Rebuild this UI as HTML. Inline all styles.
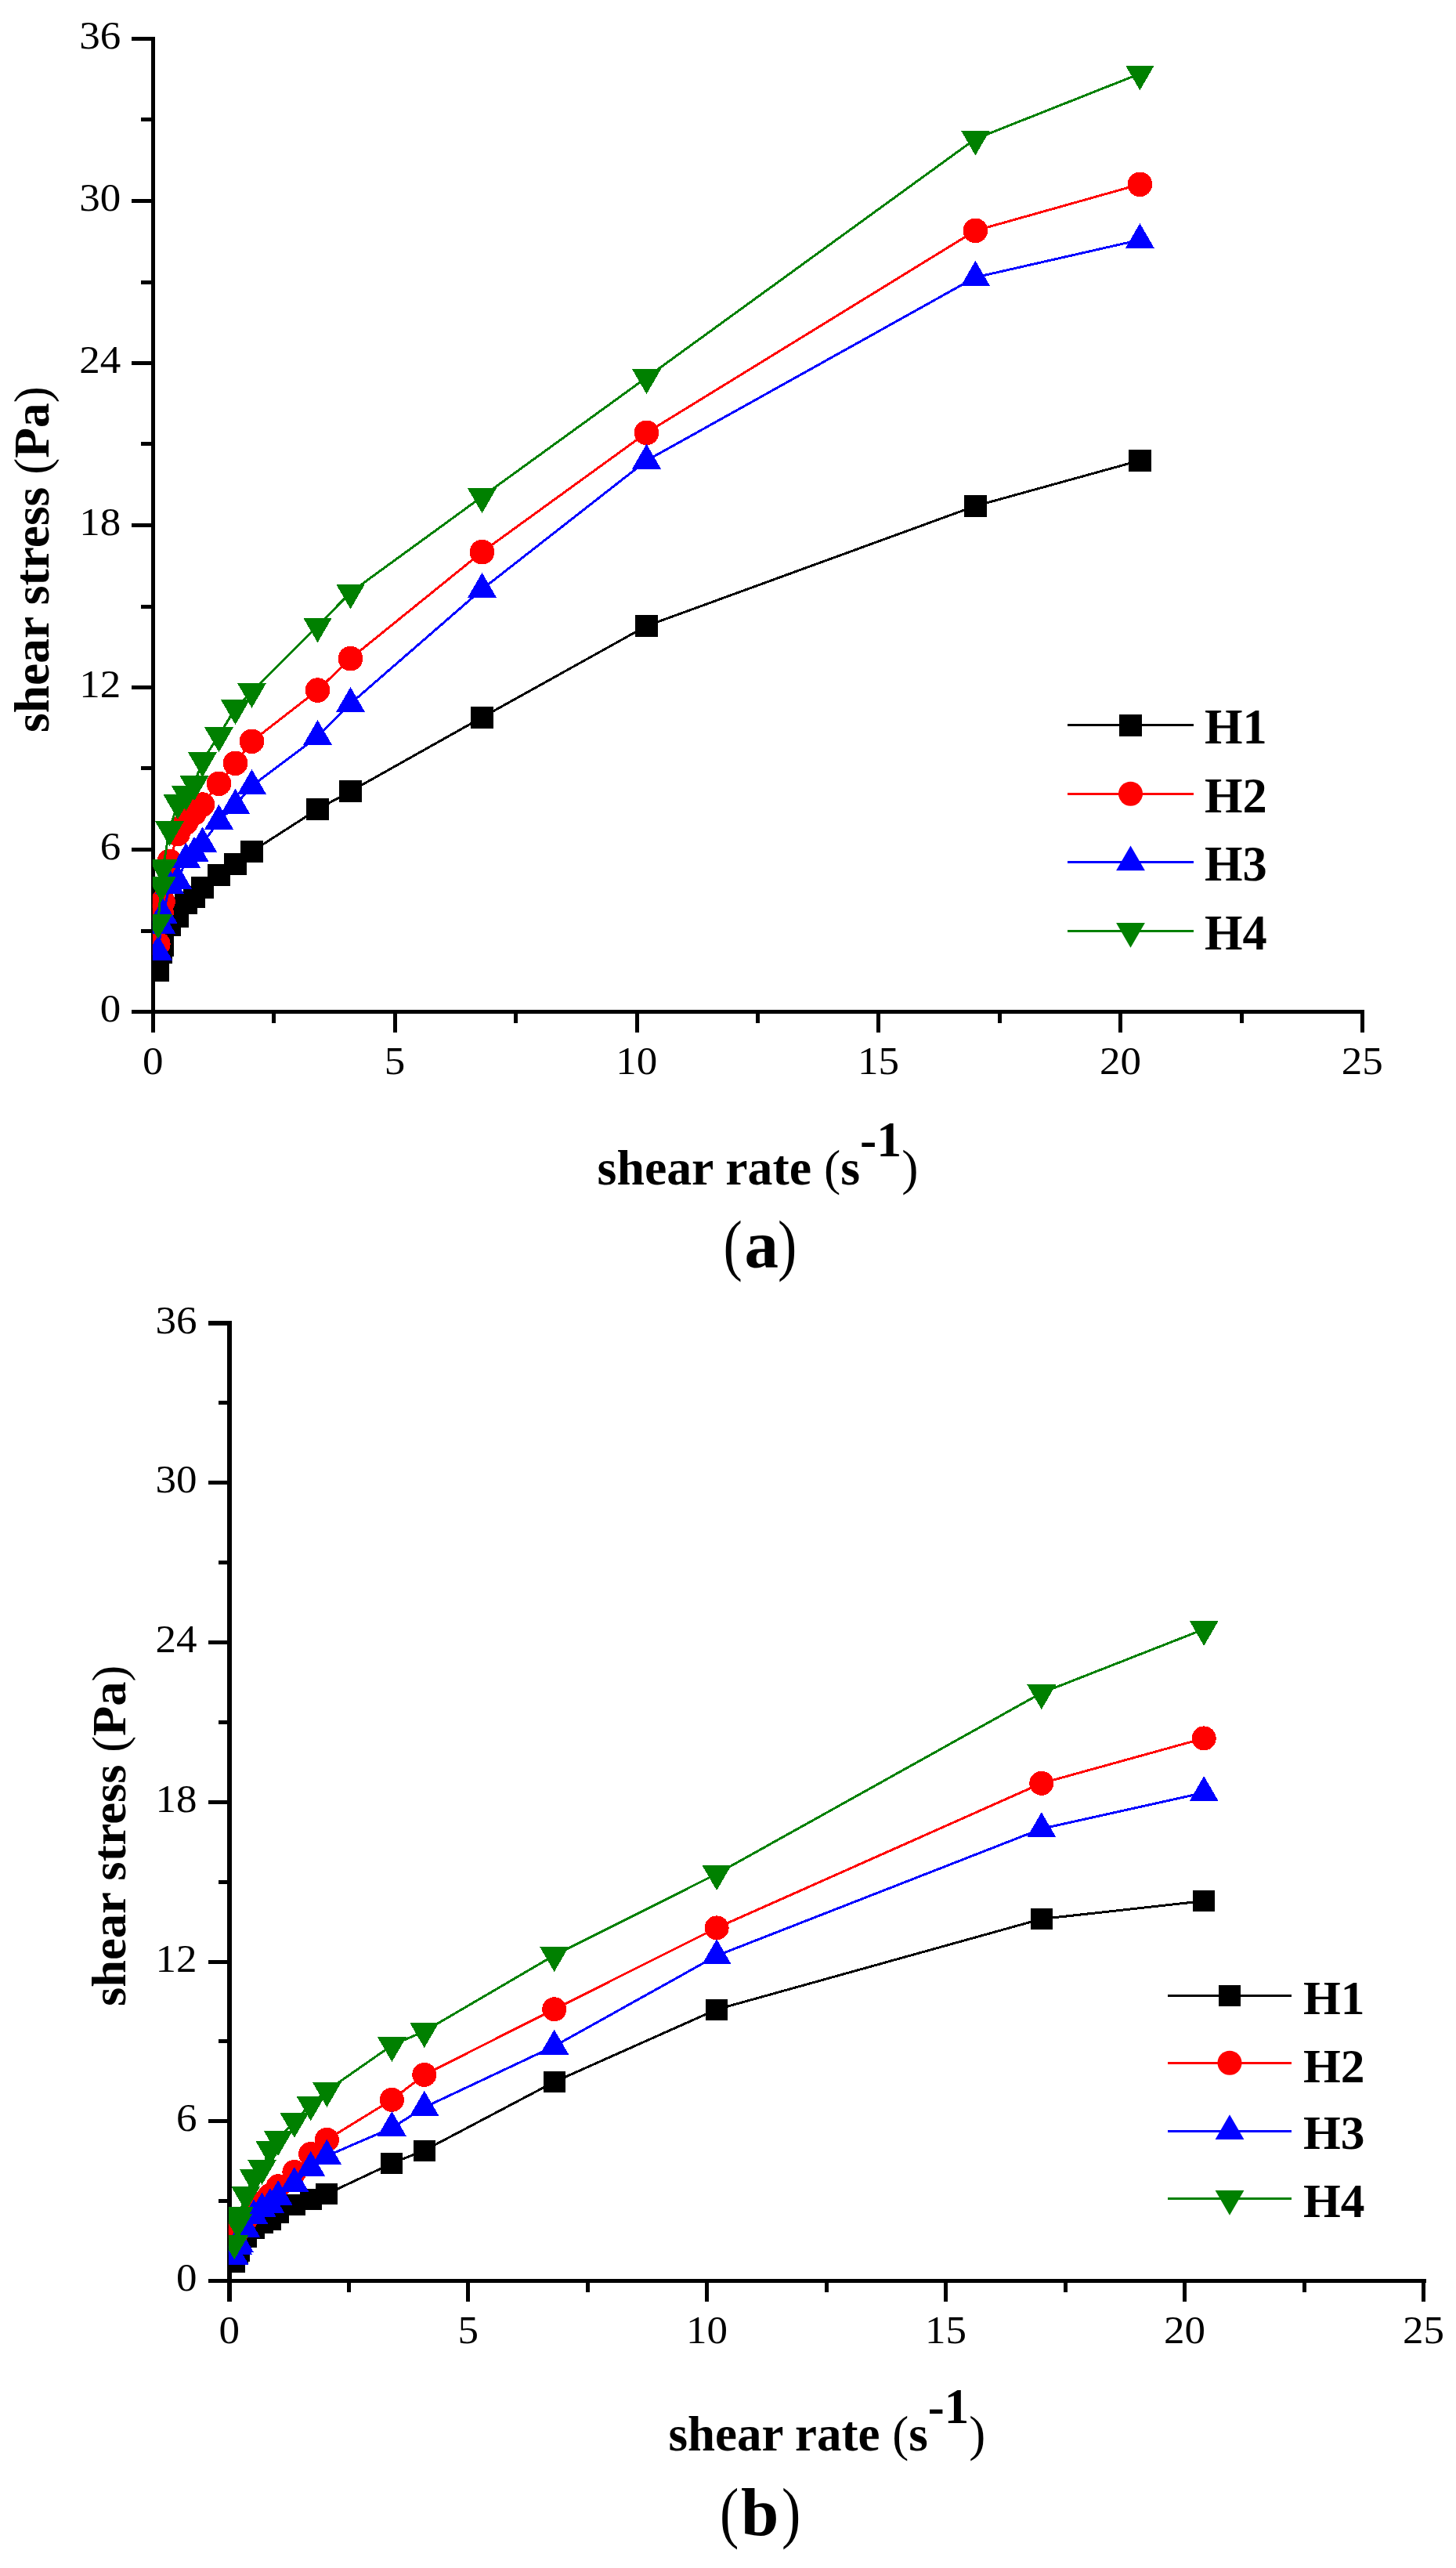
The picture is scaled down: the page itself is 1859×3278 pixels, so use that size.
<!DOCTYPE html>
<html lang="en"><head><meta charset="utf-8"><title>Shear stress versus shear rate</title>
<style>html,body{margin:0;padding:0;background:#fff}body{width:1859px;height:3278px;overflow:hidden}svg{display:block}text{font-family:"Liberation Serif",serif;fill:#000}.tk{font-size:50.5px}.b{font-weight:bold}.n{font-weight:normal}</style></head><body>
<svg width="1859" height="3278" viewBox="0 0 1859 3278">
<rect width="1859" height="3278" fill="#fff"/>
<g id="chart-a">
<path d="M193 47H198V1317.5H193Z M168 1289H1742V1294H168Z M180 1186H194V1191H180Z M168 1082H194V1087H168Z M180 978H194V983H180Z M168 875H194V880H168Z M180 772H194V777H180Z M168 668H194V673H168Z M180 564H194V569H180Z M168 461H194V466H168Z M180 358H194V363H180Z M168 254H194V259H168Z M180 150H194V155H180Z M168 47H194V52H168Z M347 1292H352V1305.7H347Z M502 1292H507V1317.5H502Z M656 1292H661V1305.7H656Z M811 1292H816V1317.5H811Z M965 1292H970V1305.7H965Z M1119 1292H1124V1317.5H1119Z M1274 1292H1279V1305.7H1274Z M1428 1292H1433V1317.5H1428Z M1583 1292H1588V1305.7H1583Z M1737 1292H1742V1317.5H1737Z" fill="#000" shape-rendering="crispEdges"/>
<g class="tk" text-anchor="end">
<text transform="translate(154.3 1304.3) scale(1.05 1)">0</text>
<text transform="translate(154.3 1097.3) scale(1.05 1)">6</text>
<text transform="translate(154.3 890.3) scale(1.05 1)">12</text>
<text transform="translate(154.3 683.3) scale(1.05 1)">18</text>
<text transform="translate(154.3 476.3) scale(1.05 1)">24</text>
<text transform="translate(154.3 269.3) scale(1.05 1)">30</text>
<text transform="translate(154.3 62.3) scale(1.05 1)">36</text>
</g>
<g class="tk" text-anchor="middle">
<text transform="translate(195.2 1371.4) scale(1.05 1)">0</text>
<text transform="translate(504 1371.4) scale(1.05 1)">5</text>
<text transform="translate(812.8 1371.4) scale(1.05 1)">10</text>
<text transform="translate(1121.6 1371.4) scale(1.05 1)">15</text>
<text transform="translate(1430.4 1371.4) scale(1.05 1)">20</text>
<text transform="translate(1739.2 1371.4) scale(1.05 1)">25</text>
</g>
<clipPath id="clip0"><rect x="194.8" y="19.5" width="1574.7" height="1273"/></clipPath>
<g clip-path="url(#clip0)" shape-rendering="crispEdges">
<polyline points="201.8,1238.7 206,1215.6 208.1,1206.7 216.5,1180.6 227,1169.6 237.5,1152.9 248,1144.9 258.5,1133 279.5,1116.7 300.5,1103 321.5,1087 405.5,1033 447.5,1010.1 615.5,915.7 825.5,799 1245.4,645.9 1455.4,587.8" fill="none" stroke="#000000" stroke-width="3.0" stroke-linejoin="round"/>
<rect x="187.5" y="1224.8" width="28.6" height="27.8" fill="#000000"/><rect x="191.7" y="1201.7" width="28.6" height="27.8" fill="#000000"/><rect x="193.8" y="1192.8" width="28.6" height="27.8" fill="#000000"/><rect x="202.2" y="1166.7" width="28.6" height="27.8" fill="#000000"/><rect x="212.7" y="1155.7" width="28.6" height="27.8" fill="#000000"/><rect x="223.2" y="1139" width="28.6" height="27.8" fill="#000000"/><rect x="233.7" y="1131" width="28.6" height="27.8" fill="#000000"/><rect x="244.2" y="1119.1" width="28.6" height="27.8" fill="#000000"/><rect x="265.2" y="1102.8" width="28.6" height="27.8" fill="#000000"/><rect x="286.2" y="1089.1" width="28.6" height="27.8" fill="#000000"/><rect x="307.2" y="1073.1" width="28.6" height="27.8" fill="#000000"/><rect x="391.2" y="1019.1" width="28.6" height="27.8" fill="#000000"/><rect x="433.2" y="996.2" width="28.6" height="27.8" fill="#000000"/><rect x="601.2" y="901.8" width="28.6" height="27.8" fill="#000000"/><rect x="811.2" y="785.1" width="28.6" height="27.8" fill="#000000"/><rect x="1231.1" y="632" width="28.6" height="27.8" fill="#000000"/><rect x="1441.1" y="573.9" width="28.6" height="27.8" fill="#000000"/>
<polyline points="201.8,1205 206,1165 208.1,1151 216.5,1099.3 227,1064.5 237.5,1050 248,1038.1 258.5,1027.1 279.5,1000.3 300.5,974.3 321.5,946.3 405.5,881.1 447.5,840.6 615.5,704.6 825.5,552.4 1245.4,294.4 1455.4,235.3" fill="none" stroke="#ff0000" stroke-width="3.0" stroke-linejoin="round"/>
<circle cx="201.8" cy="1205" r="15.8" fill="#ff0000"/><circle cx="206" cy="1165" r="15.8" fill="#ff0000"/><circle cx="208.1" cy="1151" r="15.8" fill="#ff0000"/><circle cx="216.5" cy="1099.3" r="15.8" fill="#ff0000"/><circle cx="227" cy="1064.5" r="15.8" fill="#ff0000"/><circle cx="237.5" cy="1050" r="15.8" fill="#ff0000"/><circle cx="248" cy="1038.1" r="15.8" fill="#ff0000"/><circle cx="258.5" cy="1027.1" r="15.8" fill="#ff0000"/><circle cx="279.5" cy="1000.3" r="15.8" fill="#ff0000"/><circle cx="300.5" cy="974.3" r="15.8" fill="#ff0000"/><circle cx="321.5" cy="946.3" r="15.8" fill="#ff0000"/><circle cx="405.5" cy="881.1" r="15.8" fill="#ff0000"/><circle cx="447.5" cy="840.6" r="15.8" fill="#ff0000"/><circle cx="615.5" cy="704.6" r="15.8" fill="#ff0000"/><circle cx="825.5" cy="552.4" r="15.8" fill="#ff0000"/><circle cx="1245.4" cy="294.4" r="15.8" fill="#ff0000"/><circle cx="1455.4" cy="235.3" r="15.8" fill="#ff0000"/>
<polyline points="201.8,1215.1 206,1181.7 208.1,1168 216.5,1130.2 227,1124.7 237.5,1097 248,1089 258.5,1076.9 279.5,1048 300.5,1027.9 321.5,1003.2 405.5,940.2 447.5,898.2 615.5,752.2 825.5,587.9 1245.4,354 1455.4,306.2" fill="none" stroke="#0000ff" stroke-width="3.0" stroke-linejoin="round"/>
<polygon points="201.8,1193.9 183.4,1225.7 220.2,1225.7" fill="#0000ff"/><polygon points="206,1160.5 187.6,1192.3 224.4,1192.3" fill="#0000ff"/><polygon points="208.1,1146.8 189.7,1178.6 226.5,1178.6" fill="#0000ff"/><polygon points="216.5,1109 198.1,1140.8 234.9,1140.8" fill="#0000ff"/><polygon points="227,1103.5 208.6,1135.3 245.4,1135.3" fill="#0000ff"/><polygon points="237.5,1075.8 219.1,1107.6 255.9,1107.6" fill="#0000ff"/><polygon points="248,1067.8 229.6,1099.6 266.4,1099.6" fill="#0000ff"/><polygon points="258.5,1055.7 240.1,1087.5 276.9,1087.5" fill="#0000ff"/><polygon points="279.5,1026.8 261.1,1058.6 297.9,1058.6" fill="#0000ff"/><polygon points="300.5,1006.7 282.1,1038.5 318.9,1038.5" fill="#0000ff"/><polygon points="321.5,982 303.1,1013.8 339.9,1013.8" fill="#0000ff"/><polygon points="405.5,919 387.1,950.8 423.9,950.8" fill="#0000ff"/><polygon points="447.5,877 429.1,908.8 465.9,908.8" fill="#0000ff"/><polygon points="615.5,731 597.1,762.8 633.9,762.8" fill="#0000ff"/><polygon points="825.5,566.7 807.1,598.5 843.9,598.5" fill="#0000ff"/><polygon points="1245.4,332.8 1227,364.6 1263.8,364.6" fill="#0000ff"/><polygon points="1455.4,285 1437,316.8 1473.8,316.8" fill="#0000ff"/>
<polyline points="201.8,1177.3 206,1129.9 208.1,1107.7 216.5,1059 227,1024.9 237.5,1014 248,1001 258.5,971 279.5,939 300.5,904 321.5,882.7 405.5,799.1 447.5,756.3 615.5,634 825.5,481.9 1245.4,177.3 1455.4,94.1" fill="none" stroke="#008000" stroke-width="3.0" stroke-linejoin="round"/>
<polygon points="201.8,1198.5 183.4,1166.7 220.2,1166.7" fill="#008000"/><polygon points="206,1151.1 187.6,1119.3 224.4,1119.3" fill="#008000"/><polygon points="208.1,1128.9 189.7,1097.1 226.5,1097.1" fill="#008000"/><polygon points="216.5,1080.2 198.1,1048.4 234.9,1048.4" fill="#008000"/><polygon points="227,1046.1 208.6,1014.3 245.4,1014.3" fill="#008000"/><polygon points="237.5,1035.2 219.1,1003.4 255.9,1003.4" fill="#008000"/><polygon points="248,1022.2 229.6,990.4 266.4,990.4" fill="#008000"/><polygon points="258.5,992.2 240.1,960.4 276.9,960.4" fill="#008000"/><polygon points="279.5,960.2 261.1,928.4 297.9,928.4" fill="#008000"/><polygon points="300.5,925.2 282.1,893.4 318.9,893.4" fill="#008000"/><polygon points="321.5,903.9 303.1,872.1 339.9,872.1" fill="#008000"/><polygon points="405.5,820.3 387.1,788.5 423.9,788.5" fill="#008000"/><polygon points="447.5,777.5 429.1,745.7 465.9,745.7" fill="#008000"/><polygon points="615.5,655.2 597.1,623.4 633.9,623.4" fill="#008000"/><polygon points="825.5,503.1 807.1,471.3 843.9,471.3" fill="#008000"/><polygon points="1245.4,198.5 1227,166.7 1263.8,166.7" fill="#008000"/><polygon points="1455.4,115.3 1437,83.5 1473.8,83.5" fill="#008000"/>
</g>
<path d="M1363.1 925.5 H1524.2" stroke="#000000" stroke-width="3" fill="none" shape-rendering="crispEdges"/>
<rect x="1429" y="912" width="29" height="28" fill="#000000"/>
<text class="b" x="1538" y="948.8" font-size="62.4">H1</text>
<path d="M1363.1 1013.2 H1524.2" stroke="#ff0000" stroke-width="3" fill="none" shape-rendering="crispEdges"/>
<circle cx="1443.5" cy="1013.2" r="15.5" fill="#ff0000"/>
<text class="b" x="1538" y="1036.7" font-size="62.4">H2</text>
<path d="M1363.1 1100.6 H1524.2" stroke="#0000ff" stroke-width="3" fill="none" shape-rendering="crispEdges"/>
<polygon points="1443.5,1079.4 1425.1,1111.2 1461.9,1111.2" fill="#0000ff"/>
<text class="b" x="1538" y="1124.4" font-size="62.4">H3</text>
<path d="M1363.1 1188.6 H1524.2" stroke="#008000" stroke-width="3" fill="none" shape-rendering="crispEdges"/>
<polygon points="1443.5,1209.8 1425.1,1178 1461.9,1178" fill="#008000"/>
<text class="b" x="1538" y="1212.3" font-size="62.4">H4</text>
<text class="b" font-size="63" transform="translate(61.9 935) rotate(-90)" x="0" y="0" textLength="442" lengthAdjust="spacingAndGlyphs">shear stress <tspan class="n">(</tspan>Pa<tspan class="n">)</tspan></text>
<text class="b" font-size="63.8" x="762.6" y="1511.6">shear rate <tspan class="n">(</tspan>s<tspan dy="-35.4">-1</tspan><tspan class="n" dy="35.4">)</tspan></text>
<text font-size="87" transform="translate(923.5 1618) scale(0.84 1)">(</text>
<text class="b" font-size="87" x="950.5" y="1618">a</text>
<text font-size="87" transform="translate(993 1618) scale(0.84 1)">)</text>
</g>
<g id="chart-b">
<path d="M290 1686H296V2938H290Z M266 2909H1820.5V2914H266Z M278.5 2807H291V2812H278.5Z M266 2705H291V2710H266Z M278.5 2603H291V2608H278.5Z M266 2502H291V2507H266Z M278.5 2400H291V2405H278.5Z M266 2298H291V2303H266Z M278.5 2196H291V2201H278.5Z M266 2094H291V2099H266Z M278.5 1992H291V1997H278.5Z M266 1890H291V1895H266Z M278.5 1788H291V1793H278.5Z M266 1686H291V1692H266Z M443 2912H448V2925.8H443Z M595 2912H600V2938H595Z M748 2912H753V2925.8H748Z M900 2912H905V2938H900Z M1053 2912H1058V2925.8H1053Z M1205 2912H1210V2938H1205Z M1358 2912H1363V2925.8H1358Z M1510 2912H1515V2938H1510Z M1663 2912H1668V2925.8H1663Z M1815 2912H1820V2938H1815Z" fill="#000" shape-rendering="crispEdges"/>
<g class="tk" text-anchor="end">
<text transform="translate(251.4 2924.1) scale(1.05 1)">0</text>
<text transform="translate(251.4 2720.4) scale(1.05 1)">6</text>
<text transform="translate(251.4 2516.6) scale(1.05 1)">12</text>
<text transform="translate(251.4 2312.9) scale(1.05 1)">18</text>
<text transform="translate(251.4 2109.1) scale(1.05 1)">24</text>
<text transform="translate(251.4 1905.4) scale(1.05 1)">30</text>
<text transform="translate(251.4 1701.6) scale(1.05 1)">36</text>
</g>
<g class="tk" text-anchor="middle">
<text transform="translate(292.7 2990.7) scale(1.05 1)">0</text>
<text transform="translate(597.7 2990.7) scale(1.05 1)">5</text>
<text transform="translate(902.6 2990.7) scale(1.05 1)">10</text>
<text transform="translate(1207.5 2990.7) scale(1.05 1)">15</text>
<text transform="translate(1512.5 2990.7) scale(1.05 1)">20</text>
<text transform="translate(1817.5 2990.7) scale(1.05 1)">25</text>
</g>
<clipPath id="clip1"><rect x="291.9" y="1659" width="1555.8" height="1253.5"/></clipPath>
<g clip-path="url(#clip1)" shape-rendering="crispEdges">
<polyline points="299.2,2887 303.4,2877 305.4,2873 313.7,2855.1 324.1,2844.1 334.5,2837.1 344.8,2833.1 355.2,2824.1 375.9,2814 396.7,2807 417.4,2800.5 500.4,2761.5 541.8,2745 707.7,2657.5 915.1,2565 1329.8,2449.5 1537.2,2426.6" fill="none" stroke="#000000" stroke-width="3.0" stroke-linejoin="round"/>
<rect x="285.2" y="2873.5" width="28" height="27" fill="#000000"/><rect x="289.4" y="2863.5" width="28" height="27" fill="#000000"/><rect x="291.4" y="2859.5" width="28" height="27" fill="#000000"/><rect x="299.7" y="2841.6" width="28" height="27" fill="#000000"/><rect x="310.1" y="2830.6" width="28" height="27" fill="#000000"/><rect x="320.5" y="2823.6" width="28" height="27" fill="#000000"/><rect x="330.8" y="2819.6" width="28" height="27" fill="#000000"/><rect x="341.2" y="2810.6" width="28" height="27" fill="#000000"/><rect x="361.9" y="2800.5" width="28" height="27" fill="#000000"/><rect x="382.7" y="2793.5" width="28" height="27" fill="#000000"/><rect x="403.4" y="2787" width="28" height="27" fill="#000000"/><rect x="486.4" y="2748" width="28" height="27" fill="#000000"/><rect x="527.8" y="2731.5" width="28" height="27" fill="#000000"/><rect x="693.7" y="2644" width="28" height="27" fill="#000000"/><rect x="901.1" y="2551.5" width="28" height="27" fill="#000000"/><rect x="1315.8" y="2436" width="28" height="27" fill="#000000"/><rect x="1523.2" y="2413.1" width="28" height="27" fill="#000000"/>
<polyline points="299.2,2857 303.4,2847 305.4,2843 313.7,2833 324.1,2822 334.5,2812 344.8,2802.2 355.2,2790.7 375.9,2772.5 396.7,2749.5 417.4,2731.3 500.4,2680.3 541.8,2648.4 707.7,2564.8 915.1,2460.9 1329.8,2276.3 1537.2,2218.9" fill="none" stroke="#ff0000" stroke-width="3.0" stroke-linejoin="round"/>
<circle cx="299.2" cy="2857" r="15.5" fill="#ff0000"/><circle cx="303.4" cy="2847" r="15.5" fill="#ff0000"/><circle cx="305.4" cy="2843" r="15.5" fill="#ff0000"/><circle cx="313.7" cy="2833" r="15.5" fill="#ff0000"/><circle cx="324.1" cy="2822" r="15.5" fill="#ff0000"/><circle cx="334.5" cy="2812" r="15.5" fill="#ff0000"/><circle cx="344.8" cy="2802.2" r="15.5" fill="#ff0000"/><circle cx="355.2" cy="2790.7" r="15.5" fill="#ff0000"/><circle cx="375.9" cy="2772.5" r="15.5" fill="#ff0000"/><circle cx="396.7" cy="2749.5" r="15.5" fill="#ff0000"/><circle cx="417.4" cy="2731.3" r="15.5" fill="#ff0000"/><circle cx="500.4" cy="2680.3" r="15.5" fill="#ff0000"/><circle cx="541.8" cy="2648.4" r="15.5" fill="#ff0000"/><circle cx="707.7" cy="2564.8" r="15.5" fill="#ff0000"/><circle cx="915.1" cy="2460.9" r="15.5" fill="#ff0000"/><circle cx="1329.8" cy="2276.3" r="15.5" fill="#ff0000"/><circle cx="1537.2" cy="2218.9" r="15.5" fill="#ff0000"/>
<polyline points="299.2,2880.2 303.4,2867 305.4,2864.2 313.7,2845 324.1,2828.5 334.5,2819.7 344.8,2814.2 355.2,2804.3 375.9,2787.2 396.7,2767.1 417.4,2752 500.4,2716.2 541.8,2690 707.7,2611.9 915.1,2496.4 1329.8,2334.4 1537.2,2288.3" fill="none" stroke="#0000ff" stroke-width="3.0" stroke-linejoin="round"/>
<polygon points="299.2,2859 280.8,2890.8 317.6,2890.8" fill="#0000ff"/><polygon points="303.4,2845.8 285,2877.6 321.8,2877.6" fill="#0000ff"/><polygon points="305.4,2843 287,2874.8 323.8,2874.8" fill="#0000ff"/><polygon points="313.7,2823.8 295.3,2855.6 332.1,2855.6" fill="#0000ff"/><polygon points="324.1,2807.3 305.7,2839.1 342.5,2839.1" fill="#0000ff"/><polygon points="334.5,2798.5 316.1,2830.3 352.9,2830.3" fill="#0000ff"/><polygon points="344.8,2793 326.4,2824.8 363.2,2824.8" fill="#0000ff"/><polygon points="355.2,2783.1 336.8,2814.9 373.6,2814.9" fill="#0000ff"/><polygon points="375.9,2766 357.5,2797.8 394.3,2797.8" fill="#0000ff"/><polygon points="396.7,2745.9 378.3,2777.7 415.1,2777.7" fill="#0000ff"/><polygon points="417.4,2730.8 399,2762.6 435.8,2762.6" fill="#0000ff"/><polygon points="500.4,2695 482,2726.8 518.8,2726.8" fill="#0000ff"/><polygon points="541.8,2668.8 523.4,2700.6 560.2,2700.6" fill="#0000ff"/><polygon points="707.7,2590.7 689.3,2622.5 726.1,2622.5" fill="#0000ff"/><polygon points="915.1,2475.2 896.7,2507 933.5,2507" fill="#0000ff"/><polygon points="1329.8,2313.2 1311.4,2345 1348.2,2345" fill="#0000ff"/><polygon points="1537.2,2267.1 1518.8,2298.9 1555.6,2298.9" fill="#0000ff"/>
<polyline points="299.2,2863.2 303.4,2836.9 305.4,2827.5 313.7,2801.7 324.1,2779.7 334.5,2767.6 344.8,2743.7 355.2,2730.6 375.9,2707.7 396.7,2686.1 417.4,2668.7 500.4,2610.8 541.8,2592.9 707.7,2495.9 915.1,2392 1329.8,2161 1537.2,2079.7" fill="none" stroke="#008000" stroke-width="3.0" stroke-linejoin="round"/>
<polygon points="299.2,2884.4 280.8,2852.6 317.6,2852.6" fill="#008000"/><polygon points="303.4,2858.1 285,2826.3 321.8,2826.3" fill="#008000"/><polygon points="305.4,2848.7 287,2816.9 323.8,2816.9" fill="#008000"/><polygon points="313.7,2822.9 295.3,2791.1 332.1,2791.1" fill="#008000"/><polygon points="324.1,2800.9 305.7,2769.1 342.5,2769.1" fill="#008000"/><polygon points="334.5,2788.8 316.1,2757 352.9,2757" fill="#008000"/><polygon points="344.8,2764.9 326.4,2733.1 363.2,2733.1" fill="#008000"/><polygon points="355.2,2751.8 336.8,2720 373.6,2720" fill="#008000"/><polygon points="375.9,2728.9 357.5,2697.1 394.3,2697.1" fill="#008000"/><polygon points="396.7,2707.3 378.3,2675.5 415.1,2675.5" fill="#008000"/><polygon points="417.4,2689.9 399,2658.1 435.8,2658.1" fill="#008000"/><polygon points="500.4,2632 482,2600.2 518.8,2600.2" fill="#008000"/><polygon points="541.8,2614.1 523.4,2582.3 560.2,2582.3" fill="#008000"/><polygon points="707.7,2517.1 689.3,2485.3 726.1,2485.3" fill="#008000"/><polygon points="915.1,2413.2 896.7,2381.4 933.5,2381.4" fill="#008000"/><polygon points="1329.8,2182.2 1311.4,2150.4 1348.2,2150.4" fill="#008000"/><polygon points="1537.2,2100.9 1518.8,2069.1 1555.6,2069.1" fill="#008000"/>
</g>
<path d="M1490.8 2547.5 H1649" stroke="#000000" stroke-width="3" fill="none" shape-rendering="crispEdges"/>
<rect x="1556" y="2534" width="28" height="27" fill="#000000"/>
<text class="b" x="1664" y="2570.8" font-size="61.4">H1</text>
<path d="M1490.8 2633.2 H1649" stroke="#ff0000" stroke-width="3" fill="none" shape-rendering="crispEdges"/>
<circle cx="1570" cy="2633.2" r="15.5" fill="#ff0000"/>
<text class="b" x="1664" y="2657.6" font-size="61.4">H2</text>
<path d="M1490.8 2720.4 H1649" stroke="#0000ff" stroke-width="3" fill="none" shape-rendering="crispEdges"/>
<polygon points="1570,2699.2 1551.6,2731 1588.4,2731" fill="#0000ff"/>
<text class="b" x="1664" y="2743.3" font-size="61.4">H3</text>
<path d="M1490.8 2806.6 H1649" stroke="#008000" stroke-width="3" fill="none" shape-rendering="crispEdges"/>
<polygon points="1570,2827.8 1551.6,2796 1588.4,2796" fill="#008000"/>
<text class="b" x="1664" y="2829.5" font-size="61.4">H4</text>
<text class="b" font-size="62" transform="translate(160.2 2561) rotate(-90)" x="0" y="0" textLength="435.3" lengthAdjust="spacingAndGlyphs">shear stress <tspan class="n">(</tspan>Pa<tspan class="n">)</tspan></text>
<text class="b" font-size="63.0" x="853.4" y="3128.4">shear rate <tspan class="n">(</tspan>s<tspan dy="-35.0">-1</tspan><tspan class="n" dy="35.0">)</tspan></text>
<text font-size="87" transform="translate(919 3235.8) scale(0.84 1)">(</text>
<text class="b" font-size="87" x="946" y="3235.8">b</text>
<text font-size="87" transform="translate(998 3235.8) scale(0.84 1)">)</text>
</g>
</svg></body></html>
